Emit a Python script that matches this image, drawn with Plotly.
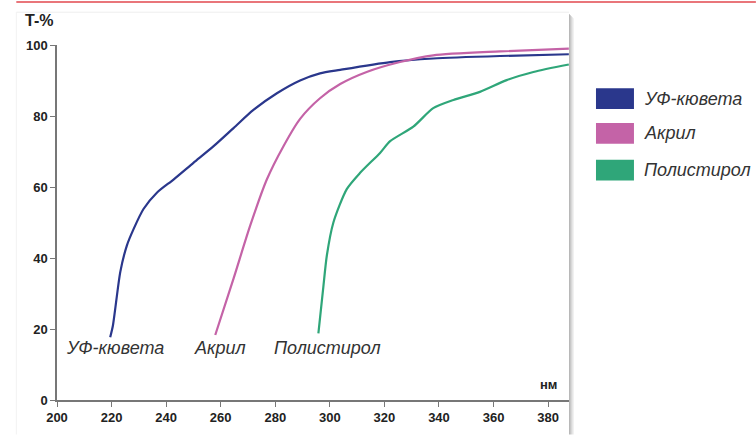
import plotly.graph_objects as go

# wavelength (nm) / transmittance (%)
uv_nm = [219.5, 220.5, 223.2, 225.6, 228.1, 231.7, 236.6, 242.7, 250.0, 257.4, 264.7,
         272.0, 280.6, 289.1, 296.4, 303.8, 322.1, 337.9, 362.4, 387.6]
uv_t = [17.7, 21.0, 36.1, 43.5, 48.2, 53.8, 58.4, 62.1, 66.8, 71.5, 76.6,
        81.7, 86.4, 90.0, 92.0, 93.0, 95.2, 96.2, 96.9, 97.4]

acryl_nm = [258.0, 264.7, 270.8, 276.9, 283.0, 289.1, 296.4, 303.8, 313.5, 325.7,
            337.9, 362.4, 387.6]
acryl_t = [18.3, 34.2, 49.1, 62.1, 71.5, 79.2, 85.0, 89.0, 92.4, 95.2,
           97.1, 98.2, 99.0]

ps_nm = [295.8, 297.5, 298.9, 301.3, 306.2, 311.1, 318.4, 322.1, 330.6, 337.9,
         345.3, 355.0, 364.8, 374.6, 387.6]
ps_t = [18.8, 31.0, 40.7, 50.0, 59.4, 64.0, 69.6, 72.9, 77.0, 82.2,
        84.5, 86.8, 90.1, 92.4, 94.5]

names = ["УФ-кювета", "Акрил", "Полистирол"]
colors = ["#2a378c", "#c463a7", "#2fa679"]

x_ticks = [200, 220, 240, 260, 280, 300, 320, 340, 360, 380]
y_ticks = [0, 20, 40, 60, 80, 100]

W, H = 756, 437
L, R, T, B = 56.7, 569.0, 45.0, 402.3


def px(x):
    return (x - L) / (R - L)


def py(y):
    return (B - y) / (B - T)


fig = go.Figure()
for xs, ys, name, c in zip([uv_nm, acryl_nm, ps_nm], [uv_t, acryl_t, ps_t], names, colors):
    fig.add_trace(go.Scatter(x=xs, y=ys, mode="lines", name=name,
                             line=dict(color=c, width=2.2, shape="spline", smoothing=0.7),
                             showlegend=False, hoverinfo="skip"))

shapes = []
# red rule on top
shapes.append(dict(type="line", xref="paper", yref="paper", x0=px(16), x1=px(756),
                   y0=py(1.8), y1=py(1.8), line=dict(color="#e2474e", width=1.5)))
# card shadow on right edge
for i, col in enumerate(["#b8b8b8", "#c8c8c8", "#d8d8d8", "#e6e6e6", "#f1f1f1"]):
    shapes.append(dict(type="rect", xref="paper", yref="paper", layer="below",
                       x0=px(569 + i), x1=px(570 + i), y0=py(437), y1=py(14 + i),
                       line=dict(width=0), fillcolor=col))
# faint card borders
shapes.append(dict(type="line", xref="paper", yref="paper", layer="below",
                   x0=px(16), x1=px(569), y0=py(12), y1=py(12),
                   line=dict(color="#eeeeee", width=1)))
shapes.append(dict(type="line", xref="paper", yref="paper", layer="below",
                   x0=px(16), x1=px(16), y0=py(12), y1=py(437),
                   line=dict(color="#f2f2f2", width=1)))

# legend swatches
leg_y = [99, 134, 171]
for yy, c in zip(leg_y, colors):
    shapes.append(dict(type="rect", xref="paper", yref="paper",
                       x0=px(596), x1=px(634), y0=py(yy - 10.5), y1=py(yy + 10.5),
                       line=dict(width=0), fillcolor=c))

annotations = []
for yy, name in zip(leg_y, names):
    annotations.append(dict(xref="paper", yref="paper", x=px(642), y=py(yy), text=name,
                            showarrow=False, xanchor="left", yanchor="middle",
                            font=dict(family="Liberation Sans", size=18, color="#333333",
                                      style="italic")))

# curve labels next to the curve starts
for xx, name in zip([115, 220, 327], names):
    annotations.append(dict(xref="paper", yref="paper", x=px(xx), y=py(350), text=name,
                            showarrow=False, xanchor="center", yanchor="middle",
                            font=dict(family="Liberation Sans", size=18, color="#333333",
                                      style="italic")))

annotations.append(dict(xref="paper", yref="paper", x=px(23), y=py(20), text="<b>T-%</b>",
                        showarrow=False, xanchor="left", yanchor="middle",
                        font=dict(family="Liberation Sans", size=16, color="#222222")))
annotations.append(dict(xref="paper", yref="paper", x=px(559), y=py(387), text="<b>нм</b>",
                        showarrow=False, xanchor="right", yanchor="middle",
                        font=dict(family="Liberation Sans", size=13, color="#222222")))

fig.update_layout(
    width=W, height=H,
    margin=dict(l=L, r=W - R, t=T, b=H - B),
    paper_bgcolor="white", plot_bgcolor="white",
    shapes=shapes, annotations=annotations,
    xaxis=dict(range=[200, 200 + (R - L) / 2.73], tickvals=x_ticks, showgrid=False,
               zeroline=False, showline=True, linecolor="#777777", linewidth=1.5,
               ticks="outside", ticklen=5, tickcolor="#777777",
               tickfont=dict(family="Liberation Sans", size=13, color="#222222",
                             weight="bold")),
    yaxis=dict(range=[0, 100], tickvals=y_ticks, showgrid=False, zeroline=False,
               showline=True, linecolor="#777777", linewidth=1.5,
               ticks="outside", ticklen=5, tickcolor="#777777",
               tickfont=dict(family="Liberation Sans", size=13, color="#222222",
                             weight="bold")),
)

# drop the browser's default body margin so the figure sits at the window origin
fig.write_html("out.html", config={"displayModeBar": False},
               post_script="document.body.style.margin='0';")
